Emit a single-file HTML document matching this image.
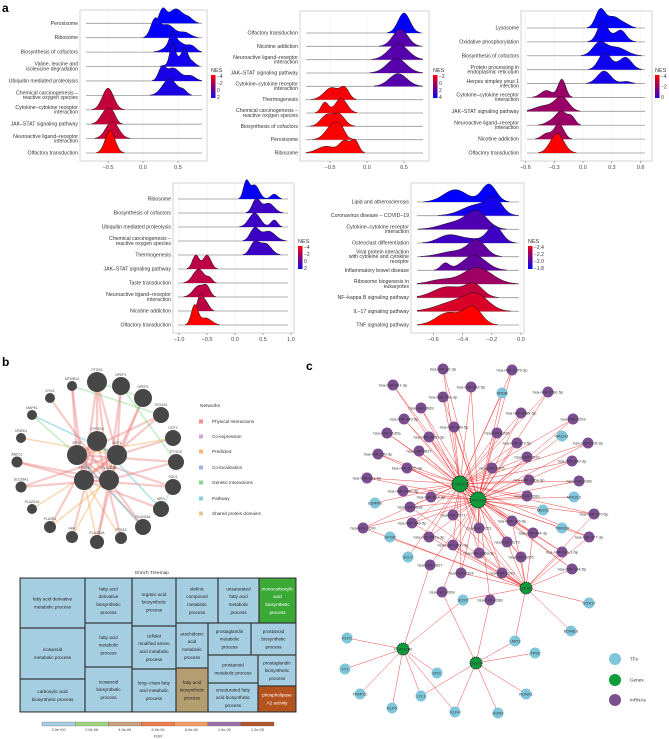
<!DOCTYPE html>
<html><head><meta charset="utf-8">
<style>
html,body{margin:0;padding:0;background:#fff;}
svg{display:block;font-family:"Liberation Sans",sans-serif;}
</style></head>
<body>
<svg id="fig" width="669" height="739" viewBox="0 0 669 739" xmlns="http://www.w3.org/2000/svg">
<text x="2" y="12" font-size="12" font-weight="bold">a</text>
<text x="2" y="366" font-size="12" font-weight="bold">b</text>
<text x="306" y="370" font-size="12" font-weight="bold">c</text>
</svg>
<script>
// ---------- Ridge data ----------
const a1Labels=["Peroxisome","Ribosome","Biosynthesis of cofactors","Valine, leucine and|isoleucine degradation","Ubiquitin mediated proteolysis","Chemical carcinogenesis –|reactive oxygen species","Cytokine–cytokine receptor|interaction","JAK–STAT signaling pathway","Neuroactive ligand–receptor|interaction","Olfactory transduction"];
const a1Nes=[2.5,2.4,2.2,2.0,1.9,1.8,-2.5,-2.5,-2.6,-4];
const a1Comps=[[[0.28,0.05,0.9],[0.47,0.1,1.0],[0.66,0.06,0.3]],[[0.17,0.06,1.2],[0.35,0.1,0.9],[0.6,0.08,0.35]],[[0.42,0.04,0.7],[0.47,0.12,0.8],[0.7,0.06,0.35]],[[0.42,0.035,1.2],[0.5,0.1,0.6],[0.6,0.04,0.9],[0.7,0.05,0.3]],[[0.27,0.05,0.8],[0.43,0.1,0.9],[0.68,0.07,0.35]],[[0.38,0.1,1.15],[0.58,0.05,0.3]],[[-0.5,0.08,1.5]],[[-0.52,0.08,1.0],[-0.43,0.05,0.4]],[[-0.44,0.09,1.2]],[[-0.47,0.07,1.55]]];
const a1Ticks=[-0.5,0,0.5];
const a1TickLabels=["−0.5","0.0","0.5"];
const a1LegVals=[-4,-2,0,2];
const a1LegLabels=["−4","−2","0","2"];

const a2Labels=["Olfactory transduction","Nicotine addiction","Neuroactive ligand–receptor|interaction","JAK–STAT signaling pathway","Cytokine–cytokine receptor|interaction","Thermogenesis","Chemical carcinogenesis –|reactive oxygen species","Biosynthesis of cofactors","Peroxisome","Ribosome"];
const a2Nes=[4,2,2,2,2,-1.8,-1.8,-1.9,-2,-2];
const a2Comps=[[[0.5,0.08,1.5]],[[0.45,0.1,1.3]],[[0.42,0.13,1.2]],[[0.4,0.13,1.1]],[[0.42,0.12,0.95]],[[-0.48,0.1,0.9],[-0.3,0.06,0.8]],[[-0.57,0.05,0.8],[-0.35,0.08,1.1]],[[-0.55,0.08,0.8],[-0.38,0.08,0.9]],[[-0.45,0.1,1.2],[-0.35,0.05,0.4]],[[-0.55,0.12,0.5],[-0.3,0.07,0.9],[-0.16,0.05,0.9]]];
const a2Ticks=[-0.5,0,0.5];
const a2TickLabels=["−0.5","0.0","0.5"];
const a2LegVals=[-2,0,2,4];
const a2LegLabels=["−2","0","2","4"];

const a3Labels=["Lysosome","Oxidative phosphorylation","Biosynthesis of cofactors","Protein processing in|endoplasmic reticulum","Herpes simplex virus 1|infection","Cytokine–cytokine receptor|interaction","JAK–STAT signaling pathway","Neuroactive ligand–receptor|interaction","Nicotine addiction","Olfactory transduction"];
const a3Nes=[1,0.8,0.8,0.7,0.6,-2,-2,-2,-2.2,-4];
const a3Comps=[[[0.18,0.05,1.3],[0.32,0.07,0.8],[0.45,0.05,0.2]],[[0.2,0.05,1.2],[0.4,0.05,0.6],[0.3,0.1,0.4]],[[0.17,0.07,0.9],[0.35,0.1,0.6]],[[0.22,0.06,1.1],[0.45,0.06,0.7],[0.35,0.1,0.3]],[[0.22,0.07,0.9],[0.45,0.05,0.15]],[[-0.22,0.04,1.3],[-0.38,0.06,0.5]],[[-0.22,0.07,1.0],[-0.4,0.1,0.4]],[[-0.22,0.05,0.8],[-0.12,0.04,0.6],[-0.3,0.07,0.4]],[[-0.25,0.05,1.1],[-0.38,0.05,0.4]],[[-0.27,0.07,1.4]]];
const a3Ticks=[-0.6,-0.3,0,0.3,0.6];
const a3TickLabels=["−0.6","−0.3","0.0","0.3","0.6"];
const a3LegVals=[-4,-2,0];
const a3LegLabels=["−4","−2","0"];

const a4Labels=["Ribosome","Biosynthesis of cofactors","Ubiquitin mediated proteolysis","Chemical carcinogenesis –|reactive oxygen species","Thermogenesis","JAK–STAT signaling pathway","Taste transduction","Neuroactive ligand–receptor|interaction","Nicotine addiction","Olfactory transduction"];
const a4Nes=[2.4,1,1,1,1,-2.3,-2.3,-2.3,-2.3,-4];
const a4Comps=[[[0.2,0.05,1.2],[0.35,0.08,1.0],[0.7,0.06,0.35]],[[0.38,0.07,1.0],[0.6,0.1,0.7]],[[0.35,0.1,1.0],[0.7,0.06,0.5]],[[0.35,0.08,0.9],[0.6,0.12,0.7]],[[0.35,0.08,0.9],[0.55,0.1,0.8]],[[-0.7,0.06,1.0],[-0.5,0.07,1.0]],[[-0.65,0.1,1.0],[-0.45,0.05,0.3]],[[-0.65,0.1,0.8],[-0.5,0.06,0.6]],[[-0.62,0.05,1.1],[-0.52,0.06,0.6]],[[-0.72,0.06,1.4],[-0.52,0.1,0.5]]];
const a4Ticks=[-1,-0.5,0,0.5,1];
const a4TickLabels=["−1.0","−0.5","0.0","0.5","1.0"];
const a4LegVals=[-4,-2,0,2];
const a4LegLabels=["−4","−2","0","2"];

const a5Labels=["Lipid and atherosclerosis","Coronavirus disease – COVID–19","Cytokine–cytokine receptor|interaction","Osteoclast differentiation","Viral protein interaction|with cytokine and cytokine|receptor","Inflammatory bowel disease","Ribosome biogenesis in|eukaryotes","NF–kappa B signaling pathway","IL–17 signaling pathway","TNF signaling pathway"];
const a5Nes=[-1.8,-1.85,-2.0,-1.95,-2.05,-2.05,-2.2,-2.3,-2.35,-2.45];
const a5Comps=[[[-0.45,0.08,0.9],[-0.22,0.05,1.3]],[[-0.3,0.1,0.8],[-0.18,0.05,1.0]],[[-0.3,0.07,1.2],[-0.45,0.1,0.5]],[[-0.5,0.07,0.5],[-0.18,0.05,1.2],[-0.35,0.1,0.3]],[[-0.3,0.06,1.1],[-0.45,0.1,0.4]],[[-0.52,0.03,0.5],[-0.32,0.08,1.1]],[[-0.3,0.1,1.2],[-0.55,0.08,0.3]],[[-0.5,0.1,0.8],[-0.32,0.06,0.9]],[[-0.45,0.12,0.7],[-0.3,0.08,1.0]],[[-0.5,0.08,0.9],[-0.33,0.06,1.3]]];
const a5Ticks=[-0.6,-0.4,-0.2,0];
const a5TickLabels=["−0.6","−0.4","−0.2","0.0"];
const a5LegVals=[-2.4,-2.2,-2.0,-1.8];
const a5LegLabels=["−2.4","−2.2","−2.0","−1.8"];

const NS="http://www.w3.org/2000/svg";
const svg=document.getElementById('fig');
function el(tag,attrs,parent){const e=document.createElementNS(NS,tag);for(const k in attrs)e.setAttribute(k,attrs[k]);(parent||svg).appendChild(e);return e;}

const panels=[
 {id:'a1',labels:a1Labels,nes:a1Nes,comps:a1Comps,ticks:a1Ticks,tl:a1TickLabels,lv:a1LegVals,ll:a1LegLabels,box:[80,10,207,161],zero:143,ppu:70,b0:23.3,b9:153,lx:[86,202],lmin:-4,lmax:2.5,leg:[211,72]},
 {id:'a2',labels:a2Labels,nes:a2Nes,comps:a2Comps,ticks:a2Ticks,tl:a2TickLabels,lv:a2LegVals,ll:a2LegLabels,box:[300,11,429,161],zero:367,ppu:74,b0:33,b9:153,lx:[306,423],lmin:-2,lmax:4,leg:[433,72]},
 {id:'a3',labels:a3Labels,nes:a3Nes,comps:a3Comps,ticks:a3Ticks,tl:a3TickLabels,lv:a3LegVals,ll:a3LegLabels,box:[521,11,652,161],zero:583,ppu:96,b0:28,b9:153,lx:[527,645],lmin:-4,lmax:1,leg:[655,72]},
 {id:'a4',labels:a4Labels,nes:a4Nes,comps:a4Comps,ticks:a4Ticks,tl:a4TickLabels,lv:a4LegVals,ll:a4LegLabels,box:[173,183,294,333],zero:235,ppu:56,b0:199,b9:325,lx:[178,288],lmin:-4,lmax:2.5,leg:[298,243]},
 {id:'a5',labels:a5Labels,nes:a5Nes,comps:a5Comps,ticks:a5Ticks,tl:a5TickLabels,lv:a5LegVals,ll:a5LegLabels,box:[411,183,524,333],zero:521,ppu:146,b0:202,b9:325,lx:[417,519],lmin:-2.45,lmax:-1.8,leg:[528,243]}
];
function nesColor(v,mn,mx){let t=(v-mn)/(mx-mn);t=Math.max(0,Math.min(1,t));return `rgb(${Math.round(255*(1-t))},0,${Math.round(255*t)})`;}
function dens(c,x){let s=0;for(const k of c)s+=k[2]*Math.exp(-((x-k[0])**2)/(2*k[1]*k[1]));return s;}

panels.forEach(P=>{
 const g=el('g',{});
 
 
 const [x1,y1,x2,y2]=P.box;
 el('rect',{x:x1,y:y1,width:x2-x1,height:y2-y1,fill:'#fff',stroke:'#c8c8c8','stroke-width':0.8},g);
 const X=v=>P.zero+v*P.ppu;
 P.ticks.forEach((t,i)=>{
  const gl=el('line',{x1:X(t),x2:X(t),y1:y1,y2:y2,stroke:'#ececec','stroke-width':0.5},g);
  
  
  el('line',{x1:X(t),x2:X(t),y1:y2,y2:y2+2,stroke:'#555','stroke-width':0.5},g);
  const tt=el('text',{x:X(t),y:y2+8,'font-size':5.5,'text-anchor':'middle',fill:'#444'},g);
  tt.textContent=P.tl[i];
  
  
 });
 const n=P.labels.length, sp=(P.b9-P.b0)/(n-1);
 const xmin=(P.lx[0]-P.zero)/P.ppu, xmax=(P.lx[1]-P.zero)/P.ppu;
 for(let i=0;i<n;i++){
  const by=P.b0+i*sp;
  const bl=el('line',{x1:P.lx[0],x2:P.lx[1],y1:by,y2:by,stroke:'#999','stroke-width':0.8},g);
  
  
  const lines=P.labels[i].split('|');
  lines.forEach((s,j)=>{
   const tx=el('text',{x:x1-2,y:by+1.5+(j-(lines.length-1)/2)*4.6,'font-size':5.2,'text-anchor':'end',fill:'#333'},g);
   tx.textContent=s;
   
   
  });
 }
 for(let i=0;i<n;i++){
  const by=P.b0+i*sp; const c=P.comps[i];
  const pts=[];const N=160;
  for(let k=0;k<=N;k++){const x=xmin+(xmax-xmin)*k/N;const d=dens(c,x);if(d>0.02)pts.push([X(x),by-d*sp]);}
  if(!pts.length)continue;
  let d='M'+pts[0][0].toFixed(1)+','+by+' '+pts.map(p=>'L'+p[0].toFixed(1)+','+p[1].toFixed(1)).join(' ')+' L'+pts[pts.length-1][0].toFixed(1)+','+by+'Z';
  const r=el('path',{d:d,fill:nesColor(P.nes[i],P.lmin,P.lmax),stroke:'none'},g);
  
  
  const top='M'+pts.map(p=>p[0].toFixed(1)+','+p[1].toFixed(1)).join(' L');
  el('path',{d:top,fill:'none',stroke:'#111','stroke-width':0.5},g);
 }
 // legend
 const [lx,ly]=P.leg;
 const lt=el('text',{x:lx,y:ly,'font-size':5.5,fill:'#333'},g);lt.textContent='NES';
 
 
 const gid='grad'+P.id;
 const gr=el('linearGradient',{id:gid,x1:0,y1:0,x2:0,y2:1},g);
 el('stop',{offset:0,'stop-color':nesColor(P.lv[0],P.lmin,P.lmax)},gr);
 el('stop',{offset:1,'stop-color':nesColor(P.lv[P.lv.length-1],P.lmin,P.lmax)},gr);
 const cb=el('rect',{x:lx,y:ly+3,width:4.5,height:23,fill:`url(#${gid})`},g);
 
 
 P.lv.forEach((v,i)=>{
  const yy=ly+4+i*(21/(P.lv.length-1));
  const lt2=el('text',{x:lx+6,y:yy+1.8,'font-size':5,fill:'#333'},g);lt2.textContent=P.ll[i];
  
  
 });
});

// ---------- Panel b network ----------
const bNodes=[["PTGS1",97,382,10],["DPEP1",121,386,9],["DPEP2",143,398,9],["TEXAS1",161,415,8],["GGT2",173,438,8],["PTGDS",176,462,8],["SOD1",173,487,8],["MPO",161,509,8],["PLA2G4A",143,527,8],["PTGS2",121,538,6],["PLA2G2A",97,542,7],["PPP",72,537,6],["PLA2R1",50,527,6],["PLA2G16",32,509,5],["SLC26A1",21,487,5.5],["ABCC1",17,462,5.5],["CRWD1",21,438,5],["MAPK1",32,415,5],["GYG1",50,398,5],["MTMR14",72,386,5],["CYP2C8",97,441,10],["GPX2",77,455,10],["GGT1",117,455,10],["PTGS1",84,480,10],["PLA2G1B",109,480,10]];
const bEdges=[[0,20,'p'],[0,22,'p'],[0,23,'p'],[0,24,'p'],[1,22,'p'],[1,24,'p'],[2,22,'p'],[2,24,'p'],[3,21,'p'],[3,23,'p'],[4,22,'p'],[4,21,'o'],[5,21,'p'],[5,24,'p'],[6,21,'p'],[6,23,'p'],[7,20,'t'],[7,23,'p'],[8,24,'p'],[8,21,'p'],[9,20,'p'],[9,23,'o'],[10,23,'o'],[10,24,'p'],[11,22,'o'],[11,20,'p'],[12,24,'o'],[13,22,'o'],[14,24,'p'],[14,22,'p'],[15,23,'p'],[15,24,'p'],[16,22,'o'],[17,22,'t'],[17,21,'g'],[18,24,'p'],[19,23,'p'],[19,21,'p'],[0,2,'g'],[1,5,'g'],[3,19,'g'],[20,21,'p'],[21,24,'p'],[22,23,'p'],[8,21,'t'],[10,22,'p'],[12,20,'p'],[6,7,'g']];
const bColors={p:'rgba(235,120,120,0.4)',o:'rgba(245,170,90,0.45)',t:'rgba(100,200,210,0.5)',g:'rgba(120,210,120,0.4)'};
const bg=el('g',{});


bEdges.forEach(e=>{const a=bNodes[e[0]],b=bNodes[e[1]];const ln=el('line',{x1:a[1],y1:a[2],x2:b[1],y2:b[2],stroke:bColors[e[2]],'stroke-width':e[2]==='p'?2.2:1.6},bg);
 
 });
bNodes.forEach(n=>{const c=el('circle',{cx:n[1],cy:n[2],r:n[3],fill:'#474747'},bg);
 
 
 const t=el('text',{x:n[1],y:n[2]-n[3]-1,'font-size':3.4,'text-anchor':'middle',fill:'#444'},bg);t.textContent=n[0];
 
 });
const bLeg=[["Networks",null],["Physical Interactions","#ef8f8f"],["Co-expression","#d5a6dc"],["Predicted","#f6b77a"],["Co-localization","#a3b3e8"],["Genetic Interactions","#86d886"],["Pathway","#86d3da"],["Shared protein domains","#d8cb93"]];
const bLegY=[407,423,438,453,469,484,500,515];
bLeg.forEach((l,i)=>{
 if(l[1]){const s=el('rect',{x:199,y:bLegY[i]-3.5,width:4,height:4,fill:l[1]});
  
  }
 const t=el('text',{x:l[1]?212:200,y:bLegY[i],'font-size':l[1]?4.6:4.8,fill:'#333'});t.textContent=l[0];
 
 
});

// ---------- Treemap ----------
const tmTitle=el('text',{x:152,y:574,'font-size':4.8,'text-anchor':'middle',fill:'#333'});tmTitle.textContent='Enrich Treemap';


const tmCells=[[20,578,85,628,"fatty acid derivative|metabolic process",0],[20,628,85,679,"icosanoid|metabolic process",0],[20,679,85,712,"carboxylic acid|biosynthetic process",0],[85,578,132,623,"fatty acid|derivative|biosynthetic|process",0],[85,623,132,667,"fatty acid|metabolic|process",0],[85,667,132,712,"icosanoid|biosynthetic|process",0],[132,578,176,626,"organic acid|biosynthetic|process",0],[132,626,176,669,"cellular|modified amino|acid metabolic|process",0],[132,669,176,712,"long–chain fatty|acid metabolic|process",0],[176,578,218,623,"olefinic|compound|metabolic|process",0],[218,578,259,623,"unsaturated|fatty acid|metabolic|process",0],[259,578,296,623,"monocarboxylic|acid|biosynthetic|process",1],[176,623,208,668,"arachidonic|acid|metabolic|process",0],[208,623,251,655,"prostaglandin|metabolic|process",0],[251,623,296,655,"prostanoid|biosynthetic|process",0],[176,668,208,712,"fatty acid|biosynthetic|process",2],[208,655,258,683,"prostanoid|metabolic process",0],[208,683,258,712,"unsaturated fatty|acid biosynthetic|process",0],[258,655,296,686,"prostaglandin|biosynthetic|process",0],[258,686,296,712,"phospholipase|A2 activity",3]];
const tmFill=["#a6cee3","#3aa935","#b59d72","#b5531f"];
const tmg=el('g',{});


el('rect',{x:19.5,y:577.5,width:277,height:135,fill:'#333'},tmg);
tmCells.forEach(c=>{
 const r=el('rect',{x:c[0]+0.6,y:c[1]+0.6,width:c[2]-c[0]-1.2,height:c[3]-c[1]-1.2,fill:tmFill[c[5]]},tmg);
 
 
 const lines=c[4].split('|');const cx=(c[0]+c[2])/2,cy=(c[1]+c[3])/2;
 lines.forEach((s,j)=>{const t=el('text',{x:cx,y:cy+1.6+(j-(lines.length-1)/2)*7.8,'font-size':4.6,'text-anchor':'middle',fill:c[5]===1||c[5]===3?'#fff':'#222'},tmg);t.textContent=s;
  
  });
});
const fdrColors=["#a6cee3","#9fd47f","#c8a07e","#f07a48","#f59a60","#9a70a8","#b0552a"];
const fdrLabels=["0.0e+00","2.0e-06","4.0e-06","6.0e-06","8.0e-06","1.0e-05","1.2e-05"];
fdrColors.forEach((c,i)=>{const w=(274-42)/7;const r=el('rect',{x:42+i*w,y:722,width:w,height:4,fill:c,stroke:'#666','stroke-width':0.3});
 
 
 const t=el('text',{x:42+i*w+w/2,y:731,'font-size':3.8,'text-anchor':'middle',fill:'#444'});t.textContent=fdrLabels[i];
 
 });
const fdrT=el('text',{x:158,y:737.5,'font-size':4,'text-anchor':'middle',fill:'#444'});fdrT.textContent='FDR';



// ---------- Panel c network ----------
const cGenes=[["CYP2C8",460,484,8],["PTGS2",478,500,8],["GPX2",526,588,6],["PLA2G1B",403,649,6],["GGT1",476,663,6]];
const cMirs=[["hsa-miR-32-3p",443,369],["hsa-miR-2276-3p",512,370],["hsa-miR-561-3p",393,385],["hsa-miR-302-5p",471,387],["hsa-miR-518c-5p",548,392],["hsa-miR-10a-3p",443,397],["hsa-miR-3669",421,408],["hsa-miR-548x-5p",521,413],["hsa-miR-340-5p",404,419],["hsa-miR-6293",573,419],["hsa-miR-488-5p",454,427],["hsa-miR-1296",497,433],["hsa-miR-5135a",387,433],["hsa-miR-302b-3p",429,437],["hsa-miR-573-5p",517,443],["hsa-miR-513f-3p",588,443],["hsa-miR-19b-3p",378,454],["hsa-miR-4637",419,451],["hsa-miR-4510",527,457],["hsa-miR-340-3p",572,461],["hsa-miR-2115-3p",407,468],["hsa-miR-1305",492,468],["hsa-miR-361-5p",367,478],["hsa-miR-130a-3p",529,480],["hsa-miR-3168",579,481],["hsa-miR-548c-3p",403,491],["hsa-miR-512-3p",431,497],["hsa-miR-3283",527,496],["hsa-miR-5638",410,507],["hsa-miR-2277",453,515],["hsa-miR-379-5p",594,514],["hsa-miR-3200",363,528],["hsa-miR-548-5p",412,523],["hsa-miR-186-5p",512,521],["hsa-miR-3251",479,528],["hsa-miR-494-3p",533,533],["hsa-miR-377-3p",589,537],["hsa-miR-301a-3p",429,537],["hsa-miR-130b-3p",453,545],["hsa-miR-3179",507,542],["hsa-miR-146a-5p",479,553],["hsa-miR-4295",521,557],["hsa-miR-92a-1-5p",562,552],["hsa-miR-1827",430,565],["hsa-miR-144-5p",572,569],["hsa-miR-4324",461,573],["hsa-miR-3199",502,573],["hsa-miR-4308",442,592],["hsa-miR-4288",490,600]];
const cTfs=[["SRDB",502,393],["BACH1",562,436],["NFE2L2",574,497],["ESRRB",375,503],["MEIS1",543,510],["TRIM28",562,528],["GFI1B",390,537],["SCLY",408,557],["SOX2",463,600],["SOX17",589,603],["EOMES",571,631],["LMO2",515,641],["TP53",535,653],["KLF2",347,638],["YY1",345,669],["MYC",437,673],["TFAP2C",360,694],["LYL1",421,696],["RUNX1",526,694],["KLF5",392,708],["KLF4",455,712],["EGR1",498,713]];
const cTfHub={"SRDB":[0,1],"BACH1":[1],"NFE2L2":[1],"ESRRB":[0],"MEIS1":[1],"TRIM28":[1],"GFI1B":[2],"SCLY":[0],"SOX2":[2,3],"SOX17":[2],"EOMES":[2],"LMO2":[2,4],"TP53":[4],"KLF2":[3],"YY1":[3],"MYC":[3],"TFAP2C":[3],"LYL1":[3,4],"RUNX1":[4],"KLF5":[3],"KLF4":[3,4],"EGR1":[4]};
const cg=el('g',{});


function cEdge(a,b){const l=el('line',{x1:a[1],y1:a[2],x2:b[1],y2:b[2],stroke:'#f03030','stroke-width':0.45},cg);
 
 }
cMirs.forEach((m,i)=>{
 if(m[0]==="hsa-miR-1827"){cEdge(m,cGenes[3]);cEdge(m,cGenes[1]);return;}
 if(m[0]==="hsa-miR-4308"||m[0]==="hsa-miR-4288"){cEdge(m,cGenes[4]);cEdge(m,cGenes[1]);return;}
 cEdge(m,cGenes[0]);cEdge(m,cGenes[1]);
 if(m[2]>505)cEdge(m,cGenes[2]);
});
cTfs.forEach(t=>cTfHub[t[0]].forEach(h=>cEdge(t,cGenes[h])));
cMirs.forEach(m=>{const c=el('circle',{cx:m[1],cy:m[2],r:5.5,fill:'#7b4f8f'},cg);
 
 
 const t=el('text',{x:m[1],y:m[2]+1.3,'font-size':4,'text-anchor':'middle',fill:'#333'},cg);t.textContent=m[0];
 
 });
cTfs.forEach(m=>{const c=el('circle',{cx:m[1],cy:m[2],r:5.5,fill:'#80c6da'},cg);
 
 
 const t=el('text',{x:m[1],y:m[2]+1.3,'font-size':4,'text-anchor':'middle',fill:'#333'},cg);t.textContent=m[0];
 
 });
cGenes.forEach(m=>{const c=el('circle',{cx:m[1],cy:m[2],r:m[3],fill:'#0f9a3c',stroke:'#111','stroke-width':1,'stroke-dasharray':'1 1'},cg);
 
 
 const t=el('text',{x:m[1],y:m[2]+1.3,'font-size':4,'text-anchor':'middle',fill:'#333'},cg);t.textContent=m[0];
 
 });
const cLeg=[["TFs","#80c6da",659],["Genes","#0f9a3c",680],["mRNAs","#7b4f8f",700]];
cLeg.forEach(l=>{const c=el('circle',{cx:615,cy:l[2],r:6,fill:l[1]});
 
 
 const t=el('text',{x:630,y:l[2]+1.5,'font-size':4.6,fill:'#333'});t.textContent=l[0];
 
 });
</script>
</body></html>
